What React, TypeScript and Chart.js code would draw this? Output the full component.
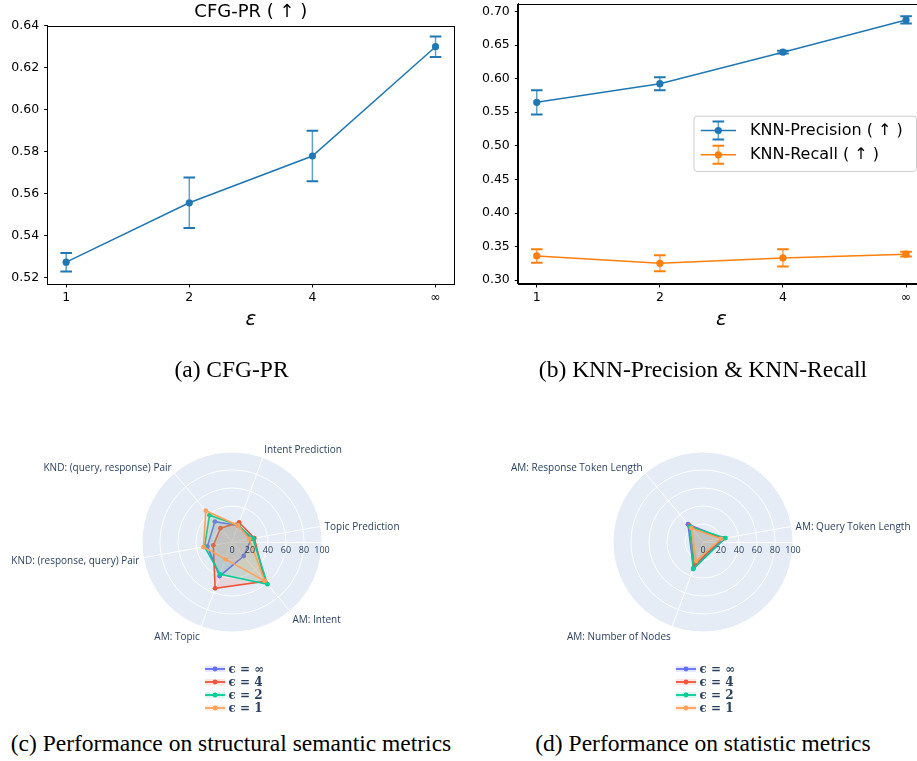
import React, { useEffect, useRef } from 'react';
import { Chart, registerables } from 'chart.js';

Chart.register(...registerables);

// ---------------- data ----------------
const epsTicks = ['1', '2', '4', '∞'];

const cfgPrMean = [0.5273, 0.5556, 0.5779, 0.63];
const cfgPrErr = [0.0044, 0.012, 0.012, 0.0049];
const cfgYTicks = [0.52, 0.54, 0.56, 0.58, 0.6, 0.62, 0.64];

const knnPrecisionMean = [0.5647, 0.5924, 0.6393, 0.6873];
const knnPrecisionErr = [0.018, 0.0097, 0.002, 0.0054];
const knnRecallMean = [0.3361, 0.3252, 0.3332, 0.3388];
const knnRecallErr = [0.0099, 0.0118, 0.0128, 0.0035];
const knnYTicks = [0.3, 0.35, 0.4, 0.45, 0.5, 0.55, 0.6, 0.65, 0.7];

const radarNames = ['ϵ = ∞', 'ϵ = 4', 'ϵ = 2', 'ϵ = 1'];
const radarColors = ['#636efa', '#EF553B', '#00cc96', '#FFA15A'];
const radarTicks = [0, 20, 40, 60, 80, 100];

// clockwise order starting at "Topic Prediction"
const structAxes = [
  'Topic Prediction',
  'AM: Intent',
  'AM: Topic',
  'KND: (response, query) Pair',
  'KND: (query, response) Pair',
  'Intent Prediction',
];
const structEpsInf = [22, 20.3, 40.3, 27.8, 29.6, 19.5];
const structEps4 = [25.2, 57, 54.8, 21.1, 20, 23.2];
const structEps2 = [23.5, 61.2, 38.3, 31, 38.9, 19.8];
const structEps1 = [19.5, 56.5, 20.5, 32.2, 45.3, 19.5];

const statAxes = ['AM: Query Token Length', 'AM: Number of Nodes', 'AM: Response Token Length'];
const statEpsInf = [22.5, 31, 25.9];
const statEps4 = [21.5, 27.8, 24];
const statEps2 = [25.4, 32, 22.4];
const statEps1 = [20.4, 22.4, 20];

// ---------------- helpers ----------------
const MPL_BLUE = '#1f77b4';
const MPL_ORANGE = '#ff7f0e';
const PLOTLY_TEXT = '#2a3f5f';

function rgba(hex: string, a: number) {
  const h = hex.replace('#', '');
  const r = parseInt(h.slice(0, 2), 16);
  const g = parseInt(h.slice(2, 4), 16);
  const b = parseInt(h.slice(4, 6), 16);
  return `rgba(${r},${g},${b},${a})`;
}

const tickFont = { family: 'DejaVu Sans', size: 12.5 };

const errorBarPlugin = {
  id: 'errorBars',
  beforeDatasetsDraw(chart: any) {
    const { ctx } = chart;
    const xs = chart.scales.x;
    const ys = chart.scales.y;
    chart.data.datasets.forEach((ds: any) => {
      if (!ds.errors) return;
      ds.data.forEach((p: any, i: number) => {
        const e = ds.errors[i];
        const x = xs.getPixelForValue(p.x);
        const yT = ys.getPixelForValue(p.y + e);
        const yB = ys.getPixelForValue(p.y - e);
        ctx.save();
        ctx.strokeStyle = rgba(ds.borderColor, 0.7);
        ctx.lineWidth = 1.5;
        ctx.beginPath();
        ctx.moveTo(x, yT);
        ctx.lineTo(x, yB);
        ctx.stroke();
        ctx.strokeStyle = ds.borderColor;
        ctx.lineWidth = 2;
        ctx.beginPath();
        ctx.moveTo(x - 5.8, yT);
        ctx.lineTo(x + 5.8, yT);
        ctx.moveTo(x - 5.8, yB);
        ctx.lineTo(x + 5.8, yB);
        ctx.stroke();
        ctx.restore();
      });
    });
  },
};

const framePlugin = {
  id: 'frame',
  afterDraw(chart: any) {
    const { ctx, chartArea: a } = chart;
    ctx.save();
    ctx.strokeStyle = '#000';
    ctx.lineWidth = 1;
    ctx.strokeRect(Math.round(a.left) - 0.5, Math.round(a.top) + 0.5, Math.round(a.right - a.left) + 1, Math.round(a.bottom - a.top) - 1);
    ctx.restore();
  },
};

function titlePlugin(text: string) {
  return {
    id: 'topTitle',
    afterDraw(chart: any) {
      const { ctx, chartArea: a } = chart;
      ctx.save();
      ctx.font = '18px "DejaVu Sans"';
      ctx.fillStyle = '#000';
      ctx.textAlign = 'center';
      ctx.textBaseline = 'middle';
      ctx.fillText(text, (a.left + a.right) / 2, 12.5);
      ctx.restore();
    },
  };
}

const mplLegendPlugin = {
  id: 'mplLegend',
  afterDraw(chart: any) {
    const { ctx, chartArea: a } = chart;
    const w = 222.5;
    const h = 55.3;
    const right = a.right - 8;
    const left = right - w;
    const cy = (a.top + a.bottom) / 2;
    const top = cy - h / 2;
    ctx.save();
    ctx.beginPath();
    (ctx as any).roundRect(left, top, w, h, 3);
    ctx.fillStyle = 'rgba(255,255,255,0.8)';
    ctx.fill();
    ctx.strokeStyle = '#cccccc';
    ctx.lineWidth = 1;
    ctx.stroke();
    const rows = [cy - 13.3, cy + 11];
    chart.data.datasets.forEach((ds: any, i: number) => {
      const y = rows[i];
      const x0 = left + 6.7;
      const x1 = left + 42;
      const xm = (x0 + x1) / 2;
      ctx.strokeStyle = ds.borderColor;
      ctx.lineWidth = 1.5;
      ctx.beginPath();
      ctx.moveTo(x0, y);
      ctx.lineTo(x1, y);
      ctx.stroke();
      ctx.strokeStyle = rgba(ds.borderColor, 0.7);
      ctx.beginPath();
      ctx.moveTo(xm, y - 9);
      ctx.lineTo(xm, y + 9);
      ctx.stroke();
      ctx.strokeStyle = ds.borderColor;
      ctx.lineWidth = 2;
      ctx.beginPath();
      ctx.moveTo(xm - 5.8, y - 9);
      ctx.lineTo(xm + 5.8, y - 9);
      ctx.moveTo(xm - 5.8, y + 9);
      ctx.lineTo(xm + 5.8, y + 9);
      ctx.stroke();
      ctx.fillStyle = ds.borderColor;
      ctx.beginPath();
      ctx.arc(xm, y, 3.6, 0, Math.PI * 2);
      ctx.fill();
      ctx.fillStyle = '#000';
      ctx.font = '16px "DejaVu Sans"';
      ctx.textAlign = 'left';
      ctx.textBaseline = 'middle';
      ctx.fillText(ds.label, left + 56, y);
    });
    ctx.restore();
  },
};

function lineConfig(opts: any) {
  const { series, yMin, yMax, yTicks, yAxisWidth, padTop, padRight, extraPlugins } = opts;
  const gridOpts = { drawOnChartArea: false, drawTicks: true, tickLength: 3.5, color: '#000', tickWidth: 1 };
  const borderOpts = { display: true, color: '#000', width: 1 };
  return {
    type: 'line',
    data: {
      datasets: series.map((s: any) => ({
        label: s.label,
        data: s.mean.map((v: number, i: number) => ({ x: i, y: v })),
        errors: s.err,
        borderColor: s.color,
        backgroundColor: s.color,
        pointBackgroundColor: s.color,
        borderWidth: 1.5,
        pointRadius: 3.6,
        pointHoverRadius: 3.6,
        pointBorderWidth: 0,
        tension: 0,
        fill: false,
      })),
    },
    options: {
      animation: false,
      responsive: false,
      events: [],
      layout: { padding: { top: padTop, right: padRight, left: 0, bottom: 0 } },
      scales: {
        x: {
          type: 'linear',
          min: -0.15,
          max: 3.15,
          afterBuildTicks: (s: any) => {
            s.ticks = epsTicks.map((_, i) => ({ value: i }));
          },
          ticks: {
            callback: (v: any) => epsTicks[Math.round(Number(v))],
            color: '#000',
            font: tickFont,
            padding: 3,
            maxRotation: 0,
            autoSkip: false,
          },
          grid: gridOpts,
          border: borderOpts,
          title: {
            display: true,
            text: 'ε',
            color: '#000',
            font: { family: 'DejaVu Sans', size: 20, style: 'italic' },
            padding: { top: 0, bottom: 8 },
          },
          afterFit: (s: any) => {
            s.height = 56;
            s.paddingLeft = 0;
            s.paddingRight = 0;
          },
        },
        y: {
          type: 'linear',
          min: yMin,
          max: yMax,
          afterBuildTicks: (s: any) => {
            s.ticks = yTicks.map((v: number) => ({ value: v }));
          },
          ticks: {
            callback: (v: any) => Number(v).toFixed(2),
            color: '#000',
            font: tickFont,
            padding: 5,
            autoSkip: false,
          },
          grid: gridOpts,
          border: borderOpts,
          afterFit: (s: any) => {
            s.width = yAxisWidth;
            s.paddingTop = 0;
            s.paddingBottom = 0;
          },
        },
      },
      plugins: { legend: { display: false }, tooltip: { enabled: false }, title: { display: false } },
    },
    plugins: [errorBarPlugin, framePlugin, ...extraPlugins],
  };
}

const radarDecorPlugin = {
  id: 'radarDecor',
  beforeDraw(chart: any) {
    const s = chart.scales.r;
    const { ctx } = chart;
    ctx.save();
    ctx.fillStyle = '#E5ECF6';
    ctx.beginPath();
    ctx.arc(s.xCenter, s.yCenter, s.drawingArea, 0, Math.PI * 2);
    ctx.fill();
    ctx.restore();
  },
  beforeDatasetsDraw(chart: any) {
    const s = chart.scales.r;
    const { ctx } = chart;
    ctx.save();
    ctx.strokeStyle = '#ffffff';
    ctx.lineWidth = 1;
    ctx.beginPath();
    ctx.moveTo(s.xCenter, s.yCenter + 0.5);
    ctx.lineTo(s.xCenter + s.drawingArea, s.yCenter + 0.5);
    ctx.stroke();
    ctx.restore();
  },
  afterDraw(chart: any) {
    const s = chart.scales.r;
    const { ctx } = chart;
    ctx.save();
    ctx.fillStyle = PLOTLY_TEXT;
    ctx.textBaseline = 'middle';
    // radial tick labels along the horizontal radial axis
    ctx.font = '9px "Open Sans"';
    ctx.textAlign = 'center';
    s.ticks.forEach((t: any) => {
      const d = s.getDistanceFromCenterForValue(t.value);
      ctx.fillText(String(t.value), s.xCenter + d, s.yCenter + 8.5);
    });
    // angular labels
    ctx.font = '10px "Open Sans"';
    chart.data.labels.forEach((lab: string, i: number) => {
      const p = s.getPointPosition(i, s.drawingArea);
      const ang = s.getIndexAngle(i) - Math.PI / 2;
      const dx = Math.cos(ang);
      const dy = Math.sin(ang);
      ctx.textAlign = dx > 0.05 ? 'left' : dx < -0.05 ? 'right' : 'center';
      ctx.fillText(lab, p.x + 4 * dx, p.y + 2 + 9.5 * dy);
    });
    // legend
    chart.data.datasets.forEach((ds: any, k: number) => {
      const y = s.yCenter + 127 + 13 * k;
      const x0 = s.xCenter - 27;
      const x1 = s.xCenter - 7;
      ctx.fillStyle = rgba(ds.borderColor, 0.15);
      ctx.fillRect(x0, y - 3, x1 - x0, 6);
      ctx.strokeStyle = ds.borderColor;
      ctx.lineWidth = 1.8;
      ctx.beginPath();
      ctx.moveTo(x0, y);
      ctx.lineTo(x1, y);
      ctx.stroke();
      ctx.fillStyle = ds.borderColor;
      ctx.beginPath();
      ctx.arc((x0 + x1) / 2, y, 2.4, 0, Math.PI * 2);
      ctx.fill();
      ctx.fillStyle = PLOTLY_TEXT;
      ctx.font = 'bold 12px "DejaVu Serif"';
      ctx.textAlign = 'left';
      ctx.fillText(ds.label, s.xCenter - 3.5, y + 0.5);
    });
    ctx.restore();
  },
};

function radarConfig(axes: string[], values: number[][], padding: any) {
  return {
    type: 'radar',
    data: {
      labels: axes,
      datasets: values.map((vals, k) => ({
        label: radarNames[k],
        data: vals,
        borderColor: radarColors[k],
        backgroundColor: rgba(radarColors[k], 0.14),
        pointBackgroundColor: radarColors[k],
        pointBorderColor: radarColors[k],
        pointBorderWidth: 0,
        pointRadius: 2.4,
        pointHoverRadius: 2.4,
        borderWidth: 1.6,
        fill: true,
        tension: 0,
        order: values.length - k,
      })),
    },
    options: {
      animation: false,
      responsive: false,
      events: [],
      layout: { padding },
      scales: {
        r: {
          min: 0,
          max: 100,
          startAngle: 80,
          afterBuildTicks: (sc: any) => {
            sc.ticks = radarTicks.map((v) => ({ value: v }));
          },
          ticks: { display: false },
          grid: { circular: true, color: '#ffffff', lineWidth: 1 },
          angleLines: { display: true, color: '#ffffff', lineWidth: 1 },
          pointLabels: { display: false },
        },
      },
      plugins: { legend: { display: false }, tooltip: { enabled: false } },
    },
    plugins: [radarDecorPlugin],
  };
}

function ChartBox({ left, top, width, height, build }: any) {
  const ref = useRef<HTMLCanvasElement | null>(null);
  useEffect(() => {
    const chart = new Chart(ref.current as any, build());
    return () => chart.destroy();
  }, []);
  return (
    <canvas
      ref={ref}
      width={width}
      height={height}
      style={{ position: 'absolute', left, top, width, height }}
    />
  );
}

const captionStyle: any = {
  position: 'absolute',
  fontFamily: '"Liberation Serif", "Times New Roman", serif',
  fontSize: 23.5,
  lineHeight: '28px',
  color: '#000',
  textAlign: 'center',
  whiteSpace: 'nowrap',
};

export default function App() {
  return (
    <div
      style={{
        position: 'fixed',
        left: 0,
        top: 0,
        width: 917,
        height: 761,
        overflow: 'hidden',
        background: '#fff',
      }}
    >
      <ChartBox
        left={0}
        top={0}
        width={460}
        height={340}
        build={() =>
          lineConfig({
            series: [{ label: 'CFG-PR ( ↑ )', mean: cfgPrMean, err: cfgPrErr, color: MPL_BLUE }],
            yMin: 0.5169,
            yMax: 0.6401,
            yTicks: cfgYTicks,
            yAxisWidth: 47.7,
            padTop: 25.5,
            padRight: 6,
            extraPlugins: [titlePlugin('CFG-PR ( ↑ )')],
          })
        }
      />
      <ChartBox
        left={460}
        top={0}
        width={475}
        height={340}
        build={() =>
          lineConfig({
            series: [
              { label: 'KNN-Precision ( ↑ )', mean: knnPrecisionMean, err: knnPrecisionErr, color: MPL_BLUE },
              { label: 'KNN-Recall ( ↑ )', mean: knnRecallMean, err: knnRecallErr, color: MPL_ORANGE },
            ],
            yMin: 0.2944,
            yMax: 0.7116,
            yTicks: knnYTicks,
            yAxisWidth: 58.3,
            padTop: 2.7,
            padRight: 10.5,
            extraPlugins: [mplLegendPlugin],
          })
        }
      />
      <ChartBox
        left={0}
        top={380}
        width={460}
        height={340}
        build={() =>
          radarConfig(structAxes, [structEpsInf, structEps4, structEps2, structEps1], {
            left: 142.2,
            right: 137.8,
            top: 72.8,
            bottom: 87.2,
          })
        }
      />
      <ChartBox
        left={460}
        top={380}
        width={457}
        height={340}
        build={() =>
          radarConfig(statAxes, [statEpsInf, statEps4, statEps2, statEps1], {
            left: 153.3,
            right: 123.7,
            top: 72.7,
            bottom: 87.3,
          })
        }
      />
      <div style={{ ...captionStyle, left: 0, width: 463, top: 355 }}>(a) CFG-PR</div>
      <div style={{ ...captionStyle, left: 472, width: 462, top: 355 }}>(b) KNN-Precision &amp; KNN-Recall</div>
      <div style={{ ...captionStyle, left: 0, width: 462, top: 729 }}>(c) Performance on structural semantic metrics</div>
      <div style={{ ...captionStyle, left: 472, width: 462, top: 729 }}>(d) Performance on statistic metrics</div>
    </div>
  );
}
